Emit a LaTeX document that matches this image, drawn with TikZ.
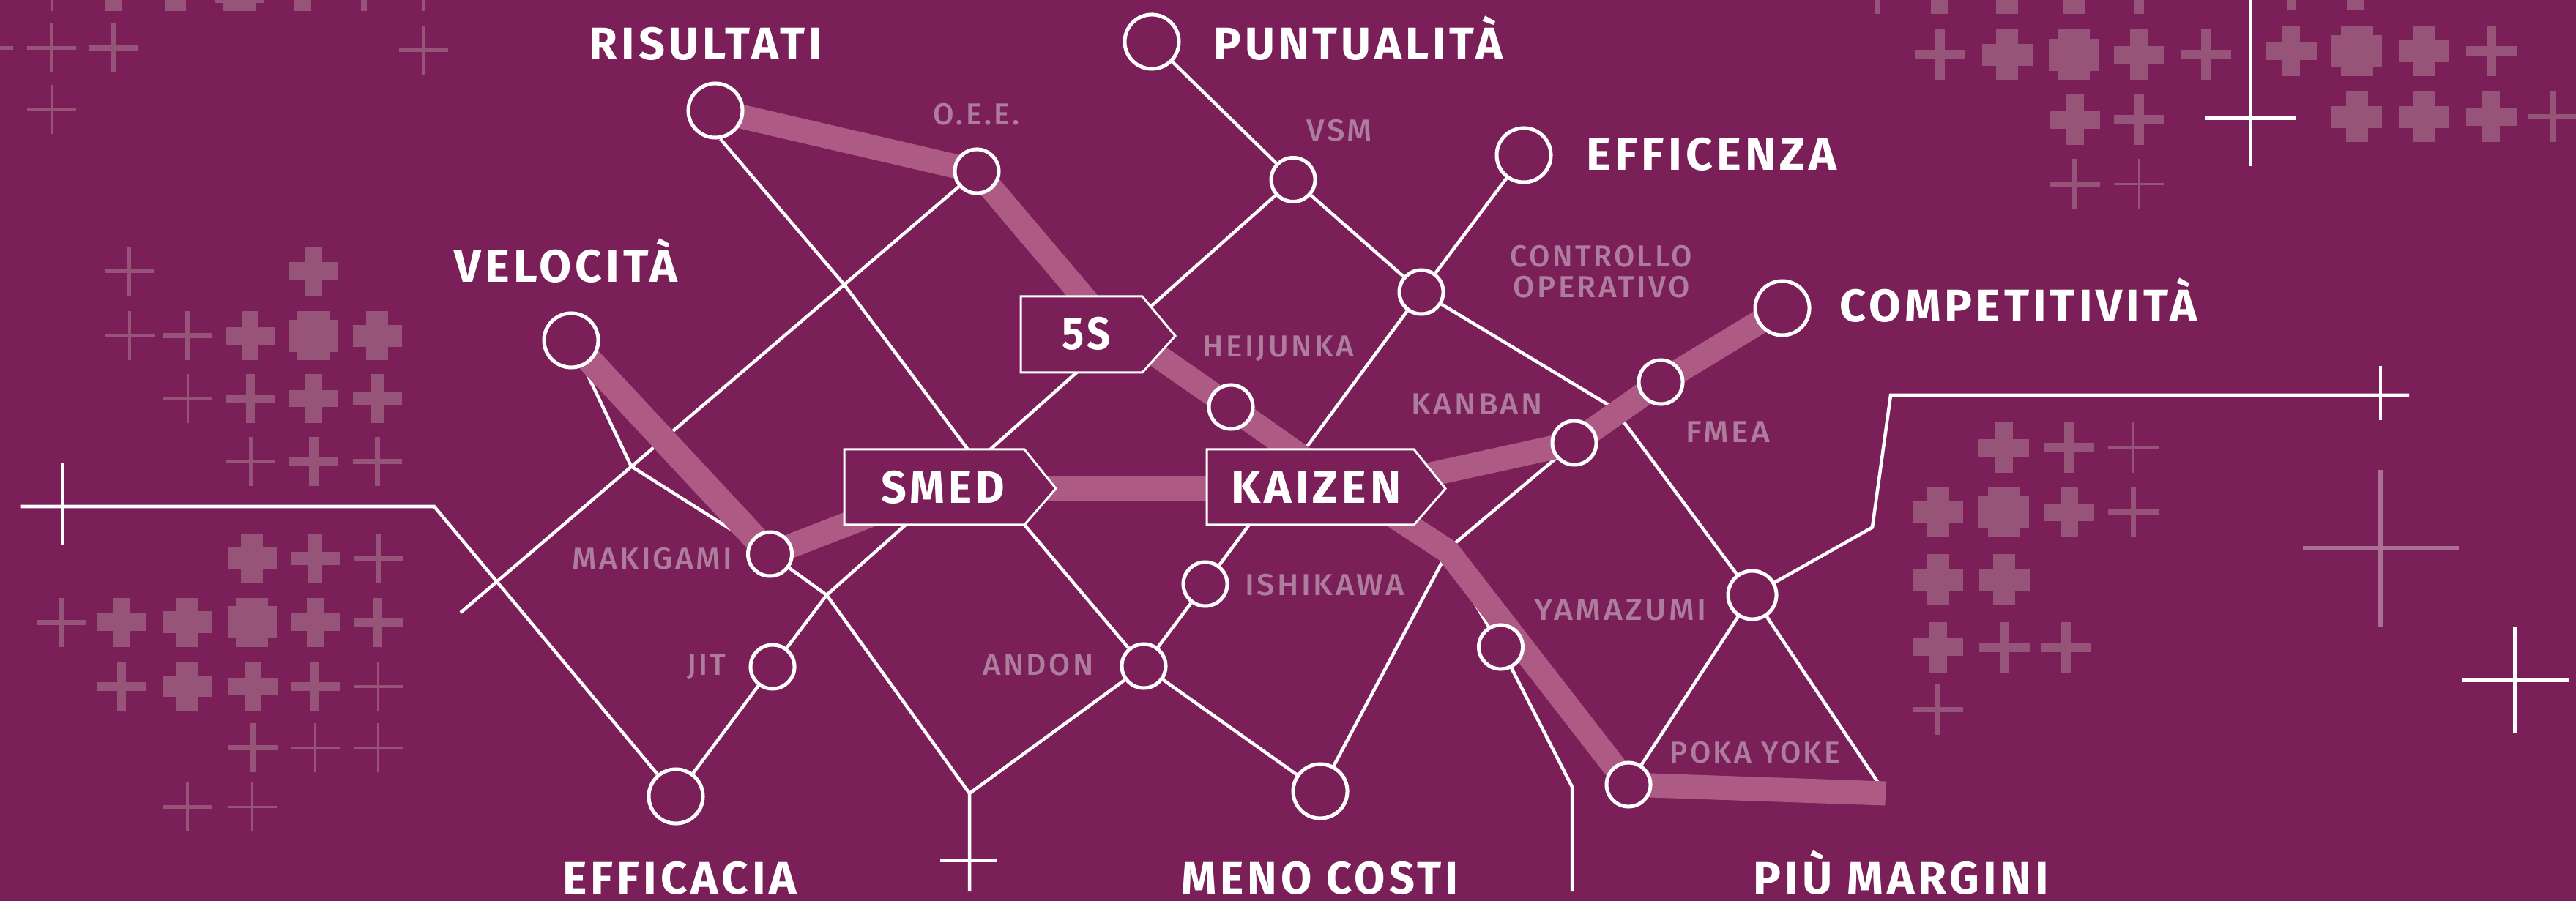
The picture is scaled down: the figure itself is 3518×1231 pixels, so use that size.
\documentclass[tikz,border=0pt]{standalone}
\usepackage{fontspec}
\usepackage{graphicx}
\setmainfont{Fira Sans}
\newfontfamily\bigf{Fira Sans}[UprightFont=* Bold,LetterSpace=8]
\newfontfamily\smallf{Fira Sans}[UprightFont=* Medium,LetterSpace=8]
\newlength\pxu
\setlength\pxu{0.01cm}
\newcommand\fw[2]{\resizebox{\dimexpr#1\pxu+1\pxu\relax}{\height}{#2}}
\definecolor{bgc}{HTML}{7B1F58}
\definecolor{bandc}{HTML}{AD5A85}
\definecolor{lblc}{HTML}{AE7C9D}
\definecolor{crossc}{HTML}{955478}
\definecolor{faintc}{HTML}{A97295}
\pgfdeclarelayer{crosslayer}
\pgfdeclarelayer{thinlayer}
\pgfdeclarelayer{bandlayer}
\pgfsetlayers{crosslayer,thinlayer,bandlayer,main}
\tikzset{
  x=0.01cm,y=-0.01cm,
  thinline/.style={draw=white,line width=0.045cm,line join=miter},
  crossline/.style={draw=white,line width=0.05cm},
  faintline/.style={draw=faintc,line width=0.055cm},
  bandline/.style={draw=bandc,line width=0.33cm,line cap=butt,line join=miter},
  bignode/.style={circle,draw=white,fill=bgc,line width=0.05cm,minimum size=0.74cm,inner sep=0pt},
  smallnode/.style={circle,draw=white,fill=bgc,line width=0.05cm,minimum size=0.60cm,inner sep=0pt},
  boxshape/.style={draw=white,fill=bgc,line width=0.03cm,line join=miter},
  biglabel/.style={text=white,font=\bigf\fontsize{17.75pt}{20pt}\selectfont,anchor=base west,inner sep=0pt},
  smalllabel/.style={text=lblc,font=\smallf\fontsize{11.8pt}{14pt}\selectfont,anchor=base west,inner sep=0pt},
  crossbar/.style={fill=crossc,draw=none},
}
\begin{document}
\begin{tikzpicture}
\useasboundingbox (0,0) rectangle (3518,1231);
\begin{pgfonlayer}{crosslayer}
\fill[bgc] (0,0) rectangle (3518,1231);
\clip (0,0) rectangle (3518,1231);
\foreach \cx/\cy/\v/\h/\w in {
 70/-18/3/3/67,155/-18/23/24/67,239.5/-18/29/30/67,327/-18/44/44/67,413/-18/23/24/67,497/-18/8/8/67,578/-18/3/3/67,
 -16/66/3/5/67,70/66/5/5/67,155/66/8/7.5/67,578/69/3.5/5/67,70/150/3/3/67,
 176/370.5/5/5/67,428/370.5/23/24/67,
 177/459/3.5/3.5/67,256/459/7/7/67,341/459/23/24/67,428/459/44/44/67,515/459/30/30/67,
 256/545/3/3/67,342/545/12/12/67,428/545/23/23/67,515/545/18/18/67,
 342/631/5/5/67,428/631/13/12/67,515/631/7/7/67,
 344/763/30/29/67,430/763/20/18/67,516/763/7/7/67,
 83/850/7/7/67,166/850/23/24/67,255.6/850/30/30/67,344/850/44/44/67,430/850/23/24/67,516/850/12/12/67,
 166/937.6/12/12/67,255.6/937.6/30/29/67,345/937.6/23/23/67,430/937.6/12/12/67,516/937.6/3/4/67,
 345/1021/7/7/67,430/1021/2.5/3/67,516/1021/2.5/3/67,
 255.6/1102/4/5/67,344/1102/2.5/3/67,
 2563/-15/7/7/69,2649/-15/24/24/69,2741/-15/30/30/69,2832/-15/30/30/69,2921/-15/13/13/69,3129/-20/13/13/69,3217/-20/24/24/69,
 2649/75/13/13/69,2741/75/30/30/69,2832/75/44/44/69,2921/75/24/24/69,3012/75/13/13/69,
 3129/70/24/24/69,3218.5/70/44/44/69,3310/70/30/30/69,3402/70/13/13/69,
 2833.5/164/24/24/69,2921/164/13/13/69,
 3218.5/160/30/30/69,3310/160/30/30/69,3402/160/24/24/69,3487/160/8/7/69,
 2833.5/251.5/7/7/69,2921/251.5/3/3/69,
 2736.5/612/24/24/69,2825.7/612/13/13/69,2913/612/3/3/69,
 2646.7/700/30/30/69,2736.5/700/44/44/69,2825.7/700/24/24/69,2913/700/7/7/69,
 2646.7/791.5/30/30/69,2737/791.5/30/30/69,
 2646.7/884/24/24/69,2737/884/13/13/69,2821/884/13/13/69,
 2646.7/969.5/7/7/69}{
  \fill[crossbar] ({\cx-\v/2},{\cy-\w/2}) rectangle ({\cx+\v/2},{\cy+\w/2});
  \fill[crossbar] ({\cx-\w/2},{\cy-\h/2}) rectangle ({\cx+\w/2},{\cy+\h/2});
}
\end{pgfonlayer}

% pentagon boxes
\path[boxshape] (1153,614) -- (1399,614) -- (1442,667.5) -- (1399,717) -- (1153,717) -- cycle;
\path[boxshape] (1648,614) -- (1931,614) -- (1974,667.5) -- (1931,717) -- (1648,717) -- cycle;
\path[boxshape] (1394,405) -- (1560,405) -- (1605,459) -- (1560,509) -- (1394,509) -- cycle;

% nodes
\node[bignode] (ris) at (977,151) {};
\node[bignode] (vel) at (780,465) {};
\node[bignode] (pun) at (1573,57) {};
\node[bignode] (eff) at (2081,212) {};
\node[bignode] (com) at (2434,421) {};
\node[bignode] (efc) at (923,1088) {};
\node[bignode] (men) at (1803,1081) {};
\node[smallnode] (oee) at (1334,234) {};
\node[smallnode] (vsm) at (1766,245.5) {};
\node[smallnode] (con) at (1941,399) {};
\node[smallnode] (hei) at (1681,556) {};
\node[smallnode] (fme) at (2268,522) {};
\node[smallnode] (kan) at (2150,605) {};
\node[smallnode] (mak) at (1051.5,757) {};
\node[smallnode] (jit) at (1055,911) {};
\node[smallnode] (ish) at (1646,798) {};
\node[smallnode] (and) at (1562,910) {};
\node[smallnode] (yam) at (2049.5,884) {};
\node[smallnode] (pok) at (2224,1072) {};
\node[smallnode,minimum size=0.66cm] (mar) at (2393,813) {};

% free points
\coordinate (xa) at (862,637);
\coordinate (xb) at (1129,813);
\coordinate (xc) at (1153,389);
\coordinate (sm) at (1399,717);
\coordinate (oel) at (629,837);
\coordinate (lfa) at (27.5,692);
\coordinate (lfb) at (593,692);
\coordinate (lvt) at (85.7,633);
\coordinate (lvb) at (85.7,745.5);
\coordinate (bj) at (1324,1084);
\coordinate (bk) at (1324,1218);
\coordinate (bl) at (1284,1176);
\coordinate (br) at (1361,1176);
\coordinate (ke) at (1980,748);
\coordinate (ce) at (2203,557);
\coordinate (ye) at (2000,800);
\coordinate (yb) at (2147,1075);
\coordinate (yc) at (2147,1218);
\coordinate (me) at (2564,1068);
\coordinate (ra) at (2557,720.5);
\coordinate (rb) at (2582,540);
\coordinate (rc) at (3290,540);
\coordinate (rvt) at (3251,500);
\coordinate (rvb) at (3251,574);
\coordinate (tvt) at (3073,-5);
\coordinate (tvb) at (3073,227);
\coordinate (tha) at (3011,161.5);
\coordinate (thb) at (3136,161.5);
\coordinate (fvt) at (3251,642);
\coordinate (fvb) at (3251,856);
\coordinate (fha) at (3145,748.6);
\coordinate (fhb) at (3358,748.6);
\coordinate (wvt) at (3434.6,856.5);
\coordinate (wvb) at (3434.6,1002);
\coordinate (wha) at (3362,929.4);
\coordinate (whb) at (3508,929.4);
\coordinate (ba) at (1500,430);
\coordinate (bb) at (1800,640);
\coordinate (bc) at (1250,680);
\coordinate (sc) at (1300,668);
\coordinate (kc) at (1800,668);
\coordinate (kd) at (1900,660);
\coordinate (ks) at (1850,670);
\coordinate (be) at (1977,753);
\coordinate (bf) at (2575,1084);

\begin{pgfonlayer}{thinlayer}
\draw[thinline] (ris.280) -- (xc) -- (sm) -- (and);
\draw[thinline] (oee) -- (oel);
\draw[thinline] (vel) -- (xa) -- (mak);
\draw[thinline] (mak) -- (xb) -- (bj);
\draw[thinline] (jit) -- (xb) -- (vsm);
\draw[thinline] (efc) -- (jit);
\draw[thinline] (lfa) -- (lfb) -- (efc);
\draw[thinline] (lvt) -- (lvb);
\draw[thinline] (and) -- (bj) -- (bk);
\draw[thinline] (bl) -- (br);
\draw[thinline] (and) -- (ish) -- (con);
\draw[thinline] (and) -- (men);
\draw[thinline] (men) -- (ke) -- (kan);
\draw[thinline] (pun) -- (vsm) -- (con);
\draw[thinline] (eff) -- (con);
\draw[thinline] (con) -- (ce) -- (mar);
\draw[thinline] (mar) -- (pok);
\draw[thinline] (mar) -- (me);
\draw[thinline] (mar) -- (ra) -- (rb) -- (rc);
\draw[thinline] (rvt) -- (rvb);
\draw[thinline] (yam) -- (ye);
\draw[thinline] (yam) -- (yb) -- (yc);
\draw[crossline] (tvt) -- (tvb);
\draw[crossline] (tha) -- (thb);
\draw[faintline] (fvt) -- (fvb);
\draw[faintline] (fha) -- (fhb);
\draw[crossline] (wvt) -- (wvb);
\draw[crossline] (wha) -- (whb);
\end{pgfonlayer}

\begin{pgfonlayer}{bandlayer}
\draw[bandline] (ris.center) -- (oee.center) -- (ba) -- (hei.center) -- (bb);
\draw[bandline,line width=0.35cm] (vel.center) -- (mak.center);
\draw[bandline] (mak.center) -- (bc);
\draw[bandline] (sc) -- (kc);
\draw[bandline] (kd) -- (kan.center) -- (fme.center) -- (com.center);
\draw[bandline] (ks) -- (be) -- (pok.center) -- (bf);
\end{pgfonlayer}

% big labels
\node[biglabel] (lris) at (804,82) {\fw{317}{RISULTATI}};
\node[biglabel] (lvel) at (620,385.5) {\fw{304}{VELOCITÀ}};
\node[biglabel] (lpun) at (1657,82) {\fw{394}{PUNTUALITÀ}};
\node[biglabel] (leff) at (2166,232.5) {\fw{341}{EFFICENZA}};
\node[biglabel] (lcom) at (2512,440) {\fw{487}{COMPETITIVITÀ}};
\node[biglabel] (lefc) at (767.6,1221) {\fw{319}{EFFICACIA}};
\node[biglabel] (lmen) at (1613,1221) {\fw{377}{MENO COSTI}};
\node[biglabel] (lmar) at (2394,1221) {\fw{402}{PIÙ MARGINI}};
\node[biglabel] (lfiv) at (1450,478) {\fw{65}{5S}};
\node[biglabel] (lsme) at (1203,688) {\fw{167}{SMED}};
\node[biglabel] (lkai) at (1680.6,688) {\fw{231}{KAIZEN}};

% small labels
\node[smalllabel] (soee) at (1274,171) {\fw{117}{O.E.E.}};
\node[smalllabel] (svsm) at (1784,193) {\fw{88}{VSM}};
\node[smalllabel] (scon) at (2062,364.6) {\fw{247}{CONTROLLO}};
\node[smalllabel] (sope) at (2066,407) {\fw{240}{OPERATIVO}};
\node[smalllabel] (shei) at (1642,488) {\fw{205}{HEIJUNKA}};
\node[smalllabel] (skan) at (1927,567) {\fw{178}{KANBAN}};
\node[smalllabel] (sfme) at (2302,604) {\fw{114}{FMEA}};
\node[smalllabel] (smak) at (780.6,777) {\fw{218}{MAKIGAMI}};
\node[smalllabel] (sjit) at (937.5,922) {\fw{52}{JIT}};
\node[smalllabel] (sish) at (1699.7,813) {\fw{217}{ISHIKAWA}};
\node[smalllabel] (sand) at (1341.6,922) {\fw{150}{ANDON}};
\node[smalllabel] (syam) at (2095,847) {\fw{234}{YAMAZUMI}};
\node[smalllabel] (spok) at (2280,1042) {\fw{231}{POKA YOKE}};
\end{tikzpicture}
\end{document}
